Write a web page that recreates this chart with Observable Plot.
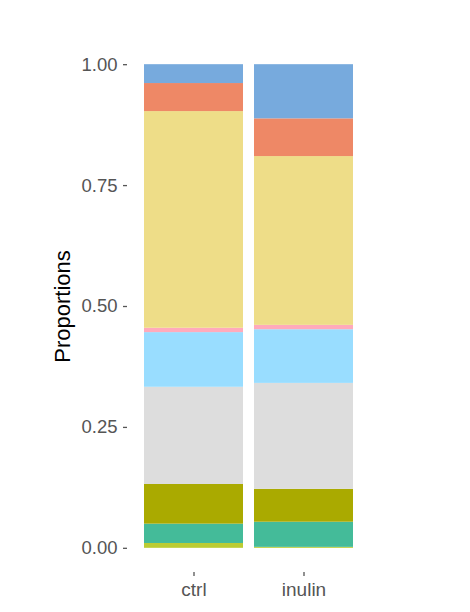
<!DOCTYPE html>
<html>
<head>
<meta charset="utf-8">
<script src="https://cdn.jsdelivr.net/npm/d3@7"></script>
<script src="https://cdn.jsdelivr.net/npm/@observablehq/plot@0.6"></script>
<style>
  html, body { margin: 0; padding: 0; background: #fff; }
  #chart { width: 470px; height: 612px; }
</style>
</head>
<body>
<div id="chart"></div>
<script>
// Groups (x categories)
const groups = ["ctrl", "inulin"];
// Stack segments, bottom to top
const taxa = ["T1", "T2", "T3", "T4", "T5", "T6", "T7", "T8", "T9"];
const taxaColors = ["#BBCC33", "#44BB99", "#AAAA00", "#DDDDDD", "#99DDFF", "#FFAABB", "#EEDD88", "#EE8866", "#77AADD"];
// Proportions per group (bottom to top)
const ctrlValues   = [0.010, 0.040, 0.082, 0.201, 0.113, 0.009, 0.448, 0.058, 0.039];
const inulinValues = [0.002, 0.052, 0.068, 0.219, 0.111, 0.009, 0.349, 0.078, 0.112];
const yTicks = [0, 0.25, 0.5, 0.75, 1];

const seriesByGroup = {ctrl: ctrlValues, inulin: inulinValues};
const rows = [];
for (const g of groups) {
  seriesByGroup[g].forEach((v, i) => rows.push({group: g, taxon: taxa[i], value: v}));
}

const chart = Plot.plot({
  width: 470,
  height: 612,
  marginTop: 40,
  marginBottom: 40,
  marginLeft: 127,
  marginRight: 101,
  style: {fontFamily: "Liberation Sans, Arial, sans-serif", background: "#fff"},
  x: {domain: groups, paddingInner: 0.1, paddingOuter: 0.15, label: null},
  y: {domain: [-0.05, 1.05], label: null},
  color: {domain: taxa, range: taxaColors},
  marks: [
    Plot.barY(rows, {x: "group", y: "value", fill: "taxon"}),
    Plot.axisY({ticks: yTicks, tickFormat: d3.format(".2f"), tickSize: 4, tickPadding: 6,
      fontSize: 18.5, color: "#555", stroke: "#555", strokeWidth: 1.3, label: null}),
    Plot.axisX({tickSize: 4, tickPadding: 6, fontSize: 19, color: "#555", stroke: "#555", strokeWidth: 1.3, label: null}),
    Plot.text(["Proportions"], {frameAnchor: "left", dx: -65, rotate: -90, fontSize: 22, fill: "#000", textAnchor: "middle"})
  ]
});
document.getElementById("chart").appendChild(chart);
</script>
</body>
</html>
